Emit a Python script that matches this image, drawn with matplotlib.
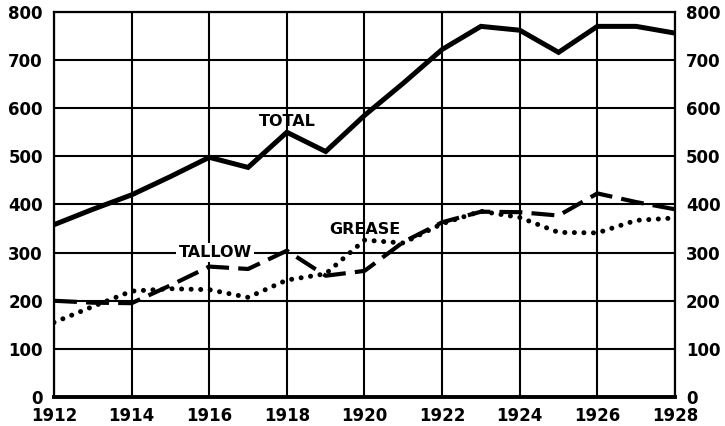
import matplotlib
matplotlib.use("Agg")
import matplotlib.pyplot as plt

years = list(range(1912, 1929))
total = [358, 390, 420, 458, 498, 477, 550, 510, 585, 652, 722, 770, 762, 716, 770, 770, 756]
tallow = [200, 196, 195, 232, 271, 266, 304, 252, 262, 322, 363, 385, 384, 377, 423, 405, 390]
grease = [155, 188, 220, 225, 223, 207, 243, 256, 326, 320, 360, 386, 373, 342, 341, 367, 372]

x_ticks = list(range(1912, 1929, 2))
y_ticks = list(range(0, 801, 100))

fig = plt.figure(figsize=(7.25, 4.26), dpi=100)
ax = fig.add_axes([0.0745, 0.068, 0.8565, 0.904])

ax.plot(years, total, color="black", lw=3.6, solid_joinstyle="miter", zorder=3)
ax.plot(years, tallow, color="black", lw=3.0, linestyle=(0, (5.5, 2.2)),
        dash_capstyle="butt", zorder=3)
ax.plot(years, grease, color="black", lw=3.6, linestyle=(0, (0.01, 1.9)),
        dash_capstyle="round", zorder=3)

ax.set_xlim(1912, 1928)
ax.set_ylim(0, 800)
ax.set_xticks(x_ticks)
ax.set_yticks(y_ticks)
ax.grid(True, color="black", lw=1.5)
ax.set_axisbelow(True)
for side in ["left", "right", "top"]:
    ax.spines[side].set_linewidth(1.6)
ax.spines["bottom"].set_linewidth(2.8)

# labels on both sides, no tick marks
ax.tick_params(length=0, labelsize=12, labelright=True, pad=8)
ax.tick_params(axis="x", pad=7)
for lab in ax.get_xticklabels() + ax.get_yticklabels():
    lab.set_fontweight("bold")
for t in ax.yaxis.get_major_ticks():
    t.label2.set_fontweight("bold")

txt = dict(fontsize=11.5, fontweight="bold", ha="center", va="center", zorder=4)
ax.text(1918.0, 572, "TOTAL", **txt)
ax.text(1916.15, 300, "TALLOW", bbox=dict(facecolor="white", edgecolor="none", pad=1.5), **txt)
ax.text(1920.0, 347, "GREASE", **txt)

fig.savefig("out.png", dpi=100)
